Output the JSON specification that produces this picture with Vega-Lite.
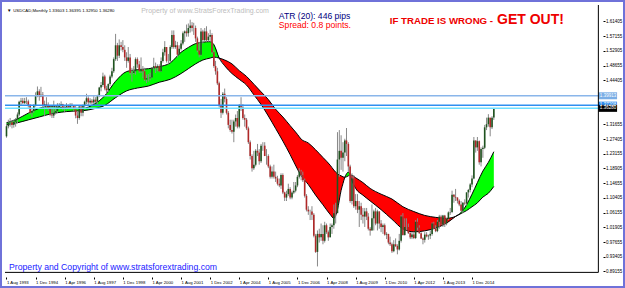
{
"$schema":"https://vega.github.io/schema/vega-lite/v6.json",
"width":625,"height":288,"autosize":"none","padding":0,"background":"white",
"config":{"view":{"stroke":"#6f72d9","strokeWidth":4},"font":"Liberation Sans","axis":{"labelOverlap":false,"labelSeparation":0,"labelFlush":false,"labelBound":false}},
"datasets":{
"candles":[
{"d":"1993-08-01","o":1.282,"h":1.318,"l":1.278,"c":1.311},{"d":"1993-09-01","o":1.311,"h":1.330,"l":1.305,"c":1.322},{"d":"1993-10-01","o":1.322,"h":1.335,"l":1.310,"c":1.323},{"d":"1993-11-01","o":1.323,"h":1.328,"l":1.305,"c":1.315},{"d":"1993-12-01","o":1.315,"h":1.330,"l":1.307,"c":1.324},
{"d":"1994-01-01","o":1.324,"h":1.335,"l":1.310,"c":1.330},{"d":"1994-02-01","o":1.330,"h":1.351,"l":1.320,"c":1.345},{"d":"1994-03-01","o":1.345,"h":1.385,"l":1.340,"c":1.382},{"d":"1994-04-01","o":1.382,"h":1.393,"l":1.372,"c":1.385},{"d":"1994-05-01","o":1.385,"h":1.393,"l":1.375,"c":1.378},{"d":"1994-06-01","o":1.378,"h":1.393,"l":1.375,"c":1.384},{"d":"1994-07-01","o":1.384,"h":1.395,"l":1.375,"c":1.383},{"d":"1994-08-01","o":1.383,"h":1.388,"l":1.365,"c":1.372},{"d":"1994-09-01","o":1.372,"h":1.375,"l":1.345,"c":1.350},{"d":"1994-10-01","o":1.350,"h":1.363,"l":1.338,"c":1.355},{"d":"1994-11-01","o":1.355,"h":1.375,"l":1.350,"c":1.372},{"d":"1994-12-01","o":1.372,"h":1.409,"l":1.368,"c":1.401},
{"d":"1995-01-01","o":1.401,"h":1.426,"l":1.395,"c":1.412},{"d":"1995-02-01","o":1.412,"h":1.418,"l":1.385,"c":1.397},{"d":"1995-03-01","o":1.397,"h":1.425,"l":1.395,"c":1.402},{"d":"1995-04-01","o":1.402,"h":1.410,"l":1.365,"c":1.370},{"d":"1995-05-01","o":1.370,"h":1.385,"l":1.340,"c":1.375},{"d":"1995-06-01","o":1.375,"h":1.395,"l":1.365,"c":1.372},{"d":"1995-07-01","o":1.372,"h":1.380,"l":1.355,"c":1.362},{"d":"1995-08-01","o":1.362,"h":1.372,"l":1.340,"c":1.345},{"d":"1995-09-01","o":1.345,"h":1.370,"l":1.335,"c":1.342},{"d":"1995-10-01","o":1.342,"h":1.385,"l":1.335,"c":1.350},{"d":"1995-11-01","o":1.350,"h":1.372,"l":1.345,"c":1.355},{"d":"1995-12-01","o":1.355,"h":1.378,"l":1.350,"c":1.366},
{"d":"1996-01-01","o":1.366,"h":1.378,"l":1.360,"c":1.372},{"d":"1996-02-01","o":1.372,"h":1.383,"l":1.368,"c":1.375},{"d":"1996-03-01","o":1.375,"h":1.376,"l":1.358,"c":1.362},{"d":"1996-04-01","o":1.362,"h":1.372,"l":1.352,"c":1.365},{"d":"1996-05-01","o":1.365,"h":1.378,"l":1.360,"c":1.370},{"d":"1996-06-01","o":1.370,"h":1.374,"l":1.360,"c":1.365},{"d":"1996-07-01","o":1.365,"h":1.378,"l":1.360,"c":1.372},{"d":"1996-08-01","o":1.372,"h":1.378,"l":1.362,"c":1.370},{"d":"1996-09-01","o":1.370,"h":1.372,"l":1.354,"c":1.360},{"d":"1996-10-01","o":1.360,"h":1.371,"l":1.334,"c":1.342},{"d":"1996-11-01","o":1.342,"h":1.355,"l":1.318,"c":1.335},{"d":"1996-12-01","o":1.335,"h":1.372,"l":1.330,"c":1.368},
{"d":"1997-01-01","o":1.368,"h":1.371,"l":1.340,"c":1.350},{"d":"1997-02-01","o":1.350,"h":1.374,"l":1.340,"c":1.371},{"d":"1997-03-01","o":1.371,"h":1.385,"l":1.362,"c":1.382},{"d":"1997-04-01","o":1.382,"h":1.405,"l":1.375,"c":1.392},{"d":"1997-05-01","o":1.392,"h":1.398,"l":1.370,"c":1.380},{"d":"1997-06-01","o":1.380,"h":1.392,"l":1.375,"c":1.385},{"d":"1997-07-01","o":1.385,"h":1.390,"l":1.368,"c":1.380},{"d":"1997-08-01","o":1.380,"h":1.398,"l":1.375,"c":1.388},{"d":"1997-09-01","o":1.388,"h":1.395,"l":1.378,"c":1.382},{"d":"1997-10-01","o":1.382,"h":1.402,"l":1.375,"c":1.400},{"d":"1997-11-01","o":1.400,"h":1.425,"l":1.395,"c":1.423},{"d":"1997-12-01","o":1.423,"h":1.439,"l":1.412,"c":1.430},
{"d":"1998-01-01","o":1.430,"h":1.466,"l":1.425,"c":1.455},{"d":"1998-02-01","o":1.455,"h":1.460,"l":1.415,"c":1.420},{"d":"1998-03-01","o":1.420,"h":1.428,"l":1.405,"c":1.415},{"d":"1998-04-01","o":1.415,"h":1.435,"l":1.410,"c":1.433},{"d":"1998-05-01","o":1.433,"h":1.460,"l":1.428,"c":1.455},{"d":"1998-06-01","o":1.455,"h":1.480,"l":1.450,"c":1.470},{"d":"1998-07-01","o":1.470,"h":1.510,"l":1.465,"c":1.505},{"d":"1998-08-01","o":1.505,"h":1.578,"l":1.500,"c":1.545},{"d":"1998-09-01","o":1.545,"h":1.552,"l":1.500,"c":1.515},{"d":"1998-10-01","o":1.515,"h":1.562,"l":1.508,"c":1.545},{"d":"1998-11-01","o":1.545,"h":1.555,"l":1.530,"c":1.540},{"d":"1998-12-01","o":1.540,"h":1.560,"l":1.525,"c":1.532},
{"d":"1999-01-01","o":1.532,"h":1.545,"l":1.500,"c":1.510},{"d":"1999-02-01","o":1.510,"h":1.525,"l":1.480,"c":1.500},{"d":"1999-03-01","o":1.500,"h":1.540,"l":1.495,"c":1.510},{"d":"1999-04-01","o":1.510,"h":1.520,"l":1.460,"c":1.465},{"d":"1999-05-01","o":1.465,"h":1.480,"l":1.440,"c":1.465},{"d":"1999-06-01","o":1.465,"h":1.485,"l":1.462,"c":1.470},{"d":"1999-07-01","o":1.470,"h":1.510,"l":1.460,"c":1.505},{"d":"1999-08-01","o":1.505,"h":1.510,"l":1.480,"c":1.490},{"d":"1999-09-01","o":1.490,"h":1.500,"l":1.465,"c":1.470},{"d":"1999-10-01","o":1.470,"h":1.510,"l":1.465,"c":1.475},{"d":"1999-11-01","o":1.475,"h":1.485,"l":1.450,"c":1.470},{"d":"1999-12-01","o":1.470,"h":1.480,"l":1.442,"c":1.446},
{"d":"2000-01-01","o":1.446,"h":1.460,"l":1.436,"c":1.450},{"d":"2000-02-01","o":1.450,"h":1.462,"l":1.440,"c":1.450},{"d":"2000-03-01","o":1.450,"h":1.466,"l":1.444,"c":1.452},{"d":"2000-04-01","o":1.452,"h":1.482,"l":1.450,"c":1.480},{"d":"2000-05-01","o":1.480,"h":1.509,"l":1.475,"c":1.485},{"d":"2000-06-01","o":1.485,"h":1.495,"l":1.465,"c":1.480},{"d":"2000-07-01","o":1.480,"h":1.490,"l":1.470,"c":1.485},{"d":"2000-08-01","o":1.485,"h":1.490,"l":1.467,"c":1.470},{"d":"2000-09-01","o":1.470,"h":1.510,"l":1.468,"c":1.500},{"d":"2000-10-01","o":1.500,"h":1.535,"l":1.495,"c":1.525},{"d":"2000-11-01","o":1.525,"h":1.557,"l":1.515,"c":1.540},{"d":"2000-12-01","o":1.540,"h":1.540,"l":1.495,"c":1.500},
{"d":"2001-01-01","o":1.500,"h":1.520,"l":1.490,"c":1.500},{"d":"2001-02-01","o":1.500,"h":1.545,"l":1.495,"c":1.540},{"d":"2001-03-01","o":1.540,"h":1.588,"l":1.535,"c":1.575},{"d":"2001-04-01","o":1.575,"h":1.588,"l":1.535,"c":1.540},{"d":"2001-05-01","o":1.540,"h":1.558,"l":1.535,"c":1.545},{"d":"2001-06-01","o":1.545,"h":1.555,"l":1.510,"c":1.518},{"d":"2001-07-01","o":1.518,"h":1.545,"l":1.515,"c":1.535},{"d":"2001-08-01","o":1.535,"h":1.560,"l":1.530,"c":1.550},{"d":"2001-09-01","o":1.550,"h":1.585,"l":1.545,"c":1.580},{"d":"2001-10-01","o":1.580,"h":1.588,"l":1.555,"c":1.585},{"d":"2001-11-01","o":1.585,"h":1.605,"l":1.570,"c":1.580},{"d":"2001-12-01","o":1.580,"h":1.608,"l":1.570,"c":1.595},
{"d":"2002-01-01","o":1.595,"h":1.619,"l":1.582,"c":1.602},{"d":"2002-02-01","o":1.602,"h":1.612,"l":1.585,"c":1.595},{"d":"2002-03-01","o":1.595,"h":1.610,"l":1.575,"c":1.595},{"d":"2002-04-01","o":1.595,"h":1.602,"l":1.555,"c":1.565},{"d":"2002-05-01","o":1.565,"h":1.570,"l":1.525,"c":1.530},{"d":"2002-06-01","o":1.530,"h":1.555,"l":1.510,"c":1.518},{"d":"2002-07-01","o":1.518,"h":1.595,"l":1.515,"c":1.585},{"d":"2002-08-01","o":1.585,"h":1.590,"l":1.550,"c":1.560},{"d":"2002-09-01","o":1.560,"h":1.595,"l":1.555,"c":1.585},{"d":"2002-10-01","o":1.585,"h":1.600,"l":1.555,"c":1.560},{"d":"2002-11-01","o":1.560,"h":1.580,"l":1.555,"c":1.570},{"d":"2002-12-01","o":1.570,"h":1.590,"l":1.555,"c":1.575},
{"d":"2003-01-01","o":1.575,"h":1.580,"l":1.520,"c":1.525},{"d":"2003-02-01","o":1.525,"h":1.530,"l":1.480,"c":1.485},{"d":"2003-03-01","o":1.485,"h":1.500,"l":1.460,"c":1.470},{"d":"2003-04-01","o":1.470,"h":1.480,"l":1.430,"c":1.435},{"d":"2003-05-01","o":1.435,"h":1.440,"l":1.365,"c":1.370},{"d":"2003-06-01","o":1.370,"h":1.390,"l":1.335,"c":1.350},{"d":"2003-07-01","o":1.350,"h":1.410,"l":1.345,"c":1.405},{"d":"2003-08-01","o":1.405,"h":1.420,"l":1.380,"c":1.390},{"d":"2003-09-01","o":1.390,"h":1.395,"l":1.345,"c":1.350},{"d":"2003-10-01","o":1.350,"h":1.355,"l":1.305,"c":1.315},{"d":"2003-11-01","o":1.315,"h":1.330,"l":1.295,"c":1.300},{"d":"2003-12-01","o":1.300,"h":1.330,"l":1.290,"c":1.295},
{"d":"2004-01-01","o":1.295,"h":1.330,"l":1.265,"c":1.325},{"d":"2004-02-01","o":1.325,"h":1.345,"l":1.310,"c":1.335},{"d":"2004-03-01","o":1.335,"h":1.355,"l":1.305,"c":1.310},{"d":"2004-04-01","o":1.310,"h":1.375,"l":1.305,"c":1.370},{"d":"2004-05-01","o":1.370,"h":1.395,"l":1.355,"c":1.365},{"d":"2004-06-01","o":1.365,"h":1.375,"l":1.330,"c":1.335},{"d":"2004-07-01","o":1.335,"h":1.345,"l":1.310,"c":1.330},{"d":"2004-08-01","o":1.330,"h":1.335,"l":1.300,"c":1.305},{"d":"2004-09-01","o":1.305,"h":1.310,"l":1.260,"c":1.265},{"d":"2004-10-01","o":1.265,"h":1.270,"l":1.215,"c":1.225},{"d":"2004-11-01","o":1.225,"h":1.230,"l":1.180,"c":1.190},{"d":"2004-12-01","o":1.190,"h":1.240,"l":1.185,"c":1.200},
{"d":"2005-01-01","o":1.200,"h":1.245,"l":1.195,"c":1.240},{"d":"2005-02-01","o":1.240,"h":1.260,"l":1.225,"c":1.235},{"d":"2005-03-01","o":1.235,"h":1.245,"l":1.200,"c":1.210},{"d":"2005-04-01","o":1.210,"h":1.260,"l":1.205,"c":1.255},{"d":"2005-05-01","o":1.255,"h":1.265,"l":1.240,"c":1.255},{"d":"2005-06-01","o":1.255,"h":1.265,"l":1.225,"c":1.225},{"d":"2005-07-01","o":1.225,"h":1.245,"l":1.200,"c":1.225},{"d":"2005-08-01","o":1.225,"h":1.230,"l":1.190,"c":1.195},{"d":"2005-09-01","o":1.195,"h":1.200,"l":1.160,"c":1.165},{"d":"2005-10-01","o":1.165,"h":1.195,"l":1.160,"c":1.180},{"d":"2005-11-01","o":1.180,"h":1.200,"l":1.160,"c":1.165},{"d":"2005-12-01","o":1.165,"h":1.180,"l":1.150,"c":1.160},
{"d":"2006-01-01","o":1.160,"h":1.168,"l":1.140,"c":1.145},{"d":"2006-02-01","o":1.145,"h":1.160,"l":1.135,"c":1.140},{"d":"2006-03-01","o":1.140,"h":1.175,"l":1.130,"c":1.170},{"d":"2006-04-01","o":1.170,"h":1.175,"l":1.115,"c":1.120},{"d":"2006-05-01","o":1.120,"h":1.122,"l":1.095,"c":1.105},{"d":"2006-06-01","o":1.105,"h":1.125,"l":1.095,"c":1.115},{"d":"2006-07-01","o":1.115,"h":1.145,"l":1.110,"c":1.130},{"d":"2006-08-01","o":1.130,"h":1.135,"l":1.100,"c":1.105},{"d":"2006-09-01","o":1.105,"h":1.125,"l":1.100,"c":1.120},{"d":"2006-10-01","o":1.120,"h":1.150,"l":1.115,"c":1.125},{"d":"2006-11-01","o":1.125,"h":1.150,"l":1.120,"c":1.140},{"d":"2006-12-01","o":1.140,"h":1.170,"l":1.135,"c":1.165},
{"d":"2007-01-01","o":1.165,"h":1.190,"l":1.160,"c":1.180},{"d":"2007-02-01","o":1.180,"h":1.185,"l":1.155,"c":1.170},{"d":"2007-03-01","o":1.170,"h":1.180,"l":1.150,"c":1.155},{"d":"2007-04-01","o":1.155,"h":1.160,"l":1.105,"c":1.110},{"d":"2007-05-01","o":1.110,"h":1.115,"l":1.065,"c":1.070},{"d":"2007-06-01","o":1.070,"h":1.080,"l":1.055,"c":1.065},{"d":"2007-07-01","o":1.065,"h":1.070,"l":1.040,"c":1.065},{"d":"2007-08-01","o":1.065,"h":1.080,"l":1.040,"c":1.055},{"d":"2007-09-01","o":1.055,"h":1.060,"l":0.990,"c":0.995},{"d":"2007-10-01","o":0.995,"h":1.000,"l":0.945,"c":0.948},{"d":"2007-11-01","o":0.948,"h":1.010,"l":0.906,"c":1.000},{"d":"2007-12-01","o":1.000,"h":1.015,"l":0.975,"c":0.990},
{"d":"2008-01-01","o":0.990,"h":1.030,"l":0.980,"c":1.000},{"d":"2008-02-01","o":1.000,"h":1.025,"l":0.970,"c":0.980},{"d":"2008-03-01","o":0.980,"h":1.035,"l":0.975,"c":1.025},{"d":"2008-04-01","o":1.025,"h":1.030,"l":1.000,"c":1.005},{"d":"2008-05-01","o":1.005,"h":1.010,"l":0.980,"c":0.990},{"d":"2008-06-01","o":0.990,"h":1.030,"l":0.990,"c":1.020},{"d":"2008-07-01","o":1.020,"h":1.030,"l":1.000,"c":1.025},{"d":"2008-08-01","o":1.025,"h":1.085,"l":1.015,"c":1.060},{"d":"2008-09-01","o":1.060,"h":1.090,"l":1.030,"c":1.060},{"d":"2008-10-01","o":1.060,"h":1.294,"l":1.060,"c":1.215},{"d":"2008-11-01","o":1.215,"h":1.300,"l":1.165,"c":1.240},{"d":"2008-12-01","o":1.240,"h":1.285,"l":1.185,"c":1.220},
{"d":"2009-01-01","o":1.220,"h":1.265,"l":1.180,"c":1.235},{"d":"2009-02-01","o":1.235,"h":1.275,"l":1.210,"c":1.270},{"d":"2009-03-01","o":1.270,"h":1.306,"l":1.225,"c":1.260},{"d":"2009-04-01","o":1.260,"h":1.265,"l":1.180,"c":1.195},{"d":"2009-05-01","o":1.195,"h":1.200,"l":1.090,"c":1.095},{"d":"2009-06-01","o":1.095,"h":1.175,"l":1.085,"c":1.160},{"d":"2009-07-01","o":1.160,"h":1.170,"l":1.075,"c":1.080},{"d":"2009-08-01","o":1.080,"h":1.115,"l":1.070,"c":1.095},{"d":"2009-09-01","o":1.095,"h":1.115,"l":1.060,"c":1.070},{"d":"2009-10-01","o":1.070,"h":1.095,"l":1.020,"c":1.080},{"d":"2009-11-01","o":1.080,"h":1.090,"l":1.040,"c":1.055},{"d":"2009-12-01","o":1.055,"h":1.075,"l":1.030,"c":1.050},
{"d":"2010-01-01","o":1.050,"h":1.075,"l":1.020,"c":1.065},{"d":"2010-02-01","o":1.065,"h":1.075,"l":1.040,"c":1.050},{"d":"2010-03-01","o":1.050,"h":1.060,"l":1.010,"c":1.015},{"d":"2010-04-01","o":1.015,"h":1.020,"l":0.995,"c":1.010},{"d":"2010-05-01","o":1.010,"h":1.085,"l":1.010,"c":1.045},{"d":"2010-06-01","o":1.045,"h":1.070,"l":1.010,"c":1.065},{"d":"2010-07-01","o":1.065,"h":1.075,"l":1.025,"c":1.030},{"d":"2010-08-01","o":1.030,"h":1.070,"l":1.010,"c":1.065},{"d":"2010-09-01","o":1.065,"h":1.065,"l":1.015,"c":1.030},{"d":"2010-10-01","o":1.030,"h":1.040,"l":1.005,"c":1.020},{"d":"2010-11-01","o":1.020,"h":1.030,"l":1.000,"c":1.025},{"d":"2010-12-01","o":1.025,"h":1.030,"l":0.995,"c":0.998},
{"d":"2011-01-01","o":0.998,"h":1.005,"l":0.985,"c":1.000},{"d":"2011-02-01","o":1.000,"h":1.000,"l":0.970,"c":0.975},{"d":"2011-03-01","o":0.975,"h":0.992,"l":0.965,"c":0.970},{"d":"2011-04-01","o":0.970,"h":0.975,"l":0.945,"c":0.950},{"d":"2011-05-01","o":0.950,"h":0.982,"l":0.947,"c":0.970},{"d":"2011-06-01","o":0.970,"h":0.987,"l":0.962,"c":0.965},{"d":"2011-07-01","o":0.965,"h":0.970,"l":0.941,"c":0.955},{"d":"2011-08-01","o":0.955,"h":1.000,"l":0.952,"c":0.980},{"d":"2011-09-01","o":0.980,"h":1.055,"l":0.975,"c":1.050},{"d":"2011-10-01","o":1.050,"h":1.060,"l":0.995,"c":0.997},{"d":"2011-11-01","o":0.997,"h":1.045,"l":0.995,"c":1.020},{"d":"2011-12-01","o":1.020,"h":1.045,"l":1.010,"c":1.020},
{"d":"2012-01-01","o":1.020,"h":1.030,"l":1.000,"c":1.002},{"d":"2012-02-01","o":1.002,"h":1.005,"l":0.985,"c":0.990},{"d":"2012-03-01","o":0.990,"h":1.005,"l":0.985,"c":0.998},{"d":"2012-04-01","o":0.998,"h":1.005,"l":0.985,"c":0.988},{"d":"2012-05-01","o":0.988,"h":1.040,"l":0.985,"c":1.035},{"d":"2012-06-01","o":1.035,"h":1.045,"l":1.010,"c":1.018},{"d":"2012-07-01","o":1.018,"h":1.025,"l":1.000,"c":1.002},{"d":"2012-08-01","o":1.002,"h":1.005,"l":0.985,"c":0.987},{"d":"2012-09-01","o":0.987,"h":0.990,"l":0.970,"c":0.983},{"d":"2012-10-01","o":0.983,"h":1.005,"l":0.975,"c":0.998},{"d":"2012-11-01","o":0.998,"h":1.005,"l":0.990,"c":0.993},{"d":"2012-12-01","o":0.993,"h":0.998,"l":0.983,"c":0.995},
{"d":"2013-01-01","o":0.995,"h":1.010,"l":0.985,"c":1.000},{"d":"2013-02-01","o":1.000,"h":1.033,"l":0.995,"c":1.030},{"d":"2013-03-01","o":1.030,"h":1.035,"l":1.013,"c":1.016},{"d":"2013-04-01","o":1.016,"h":1.025,"l":1.005,"c":1.008},{"d":"2013-05-01","o":1.008,"h":1.040,"l":1.005,"c":1.035},{"d":"2013-06-01","o":1.035,"h":1.055,"l":1.015,"c":1.050},{"d":"2013-07-01","o":1.050,"h":1.055,"l":1.025,"c":1.027},{"d":"2013-08-01","o":1.027,"h":1.055,"l":1.020,"c":1.053},{"d":"2013-09-01","o":1.053,"h":1.055,"l":1.020,"c":1.030},{"d":"2013-10-01","o":1.030,"h":1.045,"l":1.025,"c":1.043},{"d":"2013-11-01","o":1.043,"h":1.065,"l":1.040,"c":1.062},{"d":"2013-12-01","o":1.062,"h":1.075,"l":1.055,"c":1.063},
{"d":"2014-01-01","o":1.063,"h":1.125,"l":1.060,"c":1.113},{"d":"2014-02-01","o":1.113,"h":1.115,"l":1.090,"c":1.107},{"d":"2014-03-01","o":1.107,"h":1.130,"l":1.095,"c":1.105},{"d":"2014-04-01","o":1.105,"h":1.106,"l":1.088,"c":1.096},{"d":"2014-05-01","o":1.096,"h":1.100,"l":1.080,"c":1.085},{"d":"2014-06-01","o":1.085,"h":1.095,"l":1.065,"c":1.067},{"d":"2014-07-01","o":1.067,"h":1.092,"l":1.060,"c":1.090},{"d":"2014-08-01","o":1.090,"h":1.100,"l":1.083,"c":1.088},{"d":"2014-09-01","o":1.088,"h":1.120,"l":1.082,"c":1.120},{"d":"2014-10-01","o":1.120,"h":1.130,"l":1.105,"c":1.127},{"d":"2014-11-01","o":1.127,"h":1.147,"l":1.120,"c":1.143},{"d":"2014-12-01","o":1.143,"h":1.169,"l":1.135,"c":1.160},
{"d":"2015-01-01","o":1.160,"h":1.280,"l":1.158,"c":1.270},{"d":"2015-02-01","o":1.270,"h":1.270,"l":1.235,"c":1.250},{"d":"2015-03-01","o":1.250,"h":1.280,"l":1.240,"c":1.268},{"d":"2015-04-01","o":1.268,"h":1.270,"l":1.200,"c":1.207},{"d":"2015-05-01","o":1.207,"h":1.250,"l":1.195,"c":1.245},{"d":"2015-06-01","o":1.245,"h":1.255,"l":1.220,"c":1.249},{"d":"2015-07-01","o":1.249,"h":1.315,"l":1.245,"c":1.308},{"d":"2015-08-01","o":1.308,"h":1.336,"l":1.300,"c":1.317},{"d":"2015-09-01","o":1.317,"h":1.346,"l":1.310,"c":1.336},{"d":"2015-10-01","o":1.336,"h":1.336,"l":1.282,"c":1.308},{"d":"2015-11-01","o":1.308,"h":1.340,"l":1.303,"c":1.336},{"d":"2015-12-01","o":1.33603,"h":1.36395,"l":1.32950,"c":1.36280}
],
"band":[
{"d":"1993-08-01","fast":1.3212,"slow":1.3156,"seg":1,"dir":"up"},{"d":"1994-02-01","fast":1.3323,"slow":1.3212,"seg":1,"dir":"up"},{"d":"1994-08-01","fast":1.3490,"slow":1.3295,"seg":1,"dir":"up"},{"d":"1995-02-01","fast":1.3630,"slow":1.3379,"seg":1,"dir":"up"},{"d":"1995-08-01","fast":1.3686,"slow":1.3463,"seg":1,"dir":"up"},{"d":"1996-02-01","fast":1.3658,"slow":1.3518,"seg":1,"dir":"up"},{"d":"1996-08-01","fast":1.3630,"slow":1.3546,"seg":1,"dir":"up"},{"d":"1997-02-01","fast":1.3630,"slow":1.3560,"seg":1,"dir":"up"},{"d":"1997-08-01","fast":1.3742,"slow":1.3616,"seg":1,"dir":"up"},{"d":"1998-02-01","fast":1.3993,"slow":1.3714,"seg":1,"dir":"up"},{"d":"1998-08-01","fast":1.4411,"slow":1.3937,"seg":1,"dir":"up"},{"d":"1999-02-01","fast":1.4690,"slow":1.4132,"seg":1,"dir":"up"},{"d":"1999-08-01","fast":1.4746,"slow":1.4216,"seg":1,"dir":"up"},{"d":"2000-02-01","fast":1.4774,"slow":1.4272,"seg":1,"dir":"up"},{"d":"2000-08-01","fast":1.4830,"slow":1.4383,"seg":1,"dir":"up"},{"d":"2001-02-01","fast":1.4941,"slow":1.4467,"seg":1,"dir":"up"},{"d":"2001-08-01","fast":1.5248,"slow":1.4634,"seg":1,"dir":"up"},{"d":"2001-12-01","fast":1.5388,"slow":1.4774,"seg":1,"dir":"up"},{"d":"2002-04-01","fast":1.5499,"slow":1.4913,"seg":1,"dir":"up"},{"d":"2002-08-01","fast":1.5541,"slow":1.5025,"seg":1,"dir":"up"},{"d":"2002-12-01","fast":1.5555,"slow":1.5081,"seg":1,"dir":"up"},{"d":"2003-02-01","fast":1.5471,"slow":1.5109,"seg":1,"dir":"up"},{"d":"2003-05-01","fast":1.5081,"slow":1.5081,"seg":1,"dir":"up"},
{"d":"2003-05-01","fast":1.5081,"slow":1.5081,"seg":2,"dir":"down","dup":true},{"d":"2003-08-01","fast":1.4858,"slow":1.5025,"seg":2,"dir":"down"},{"d":"2003-12-01","fast":1.4634,"slow":1.4913,"seg":2,"dir":"down"},{"d":"2004-04-01","fast":1.4467,"slow":1.4718,"seg":2,"dir":"down"},{"d":"2004-08-01","fast":1.4300,"slow":1.4551,"seg":2,"dir":"down"},{"d":"2004-12-01","fast":1.4021,"slow":1.4328,"seg":2,"dir":"down"},{"d":"2005-04-01","fast":1.3742,"slow":1.4105,"seg":2,"dir":"down"},{"d":"2005-08-01","fast":1.3407,"slow":1.3881,"seg":2,"dir":"down"},{"d":"2005-12-01","fast":1.3045,"slow":1.3602,"seg":2,"dir":"down"},{"d":"2006-04-01","fast":1.2682,"slow":1.3379,"seg":2,"dir":"down"},{"d":"2006-08-01","fast":1.2291,"slow":1.3128,"seg":2,"dir":"down"},{"d":"2006-12-01","fast":1.1873,"slow":1.2877,"seg":2,"dir":"down"},{"d":"2007-02-01","fast":1.1678,"slow":1.2738,"seg":2,"dir":"down"},{"d":"2007-06-01","fast":1.1427,"slow":1.2626,"seg":2,"dir":"down"},{"d":"2007-10-01","fast":1.1120,"slow":1.2431,"seg":2,"dir":"down"},{"d":"2008-02-01","fast":1.0841,"slow":1.2208,"seg":2,"dir":"down"},{"d":"2008-06-01","fast":1.0562,"slow":1.1985,"seg":2,"dir":"down"},{"d":"2008-08-01","fast":1.0450,"slow":1.1845,"seg":2,"dir":"down"},{"d":"2008-10-01","fast":1.0701,"slow":1.1734,"seg":2,"dir":"down"},{"d":"2008-12-01","fast":1.1259,"slow":1.1678,"seg":2,"dir":"down"},{"d":"2009-01-01","fast":1.1455,"slow":1.1650,"seg":2,"dir":"down"},{"d":"2009-02-01","fast":1.1636,"slow":1.1636,"seg":2,"dir":"down"},
{"d":"2009-02-01","fast":1.1636,"slow":1.1636,"seg":3,"dir":"up","dup":true},{"d":"2009-03-01","fast":1.1734,"slow":1.1650,"seg":3,"dir":"up"},{"d":"2009-04-01","fast":1.1789,"slow":1.1678,"seg":3,"dir":"up"},{"d":"2009-05-01","fast":1.1706,"slow":1.1706,"seg":3,"dir":"up"},
{"d":"2009-05-01","fast":1.1706,"slow":1.1706,"seg":4,"dir":"down","dup":true},{"d":"2009-06-01","fast":1.1538,"slow":1.1692,"seg":4,"dir":"down"},{"d":"2009-08-01","fast":1.1315,"slow":1.1622,"seg":4,"dir":"down"},{"d":"2009-12-01","fast":1.1120,"slow":1.1483,"seg":4,"dir":"down"},{"d":"2010-04-01","fast":1.0953,"slow":1.1315,"seg":4,"dir":"down"},{"d":"2010-10-01","fast":1.0701,"slow":1.1148,"seg":4,"dir":"down"},{"d":"2011-04-01","fast":1.0423,"slow":1.1008,"seg":4,"dir":"down"},{"d":"2011-10-01","fast":1.0144,"slow":1.0785,"seg":4,"dir":"down"},{"d":"2012-04-01","fast":1.0060,"slow":1.0646,"seg":4,"dir":"down"},{"d":"2012-10-01","fast":1.0088,"slow":1.0534,"seg":4,"dir":"down"},{"d":"2013-04-01","fast":1.0171,"slow":1.0478,"seg":4,"dir":"down"},{"d":"2013-10-01","fast":1.0311,"slow":1.0450,"seg":4,"dir":"down"},{"d":"2014-03-01","fast":1.0506,"slow":1.0506,"seg":4,"dir":"down"},
{"d":"2014-03-01","fast":1.0506,"slow":1.0506,"seg":5,"dir":"up","dup":true},{"d":"2014-06-01","fast":1.0618,"slow":1.0590,"seg":5,"dir":"up"},{"d":"2014-09-01","fast":1.0841,"slow":1.0674,"seg":5,"dir":"up"},{"d":"2014-12-01","fast":1.1148,"slow":1.0785,"seg":5,"dir":"up"},{"d":"2015-03-01","fast":1.1483,"slow":1.0897,"seg":5,"dir":"up"},{"d":"2015-06-01","fast":1.1817,"slow":1.1064,"seg":5,"dir":"up"},{"d":"2015-09-01","fast":1.2068,"slow":1.1176,"seg":5,"dir":"up"},{"d":"2015-12-01","fast":1.2375,"slow":1.1371,"seg":5,"dir":"up"}
],
"levels":[{"level":1.39913,"name":"upper"},{"level":1.37208,"name":"lower"},{"level":1.36280,"name":"bid"}]
},
"layer":[
{"data":{"name":"band"},"mark":{"type":"area","interpolate":"monotone"},
 "encoding":{
  "x":{"field":"d","type":"temporal","title":null,
   "scale":{"type":"utc","domain":[{"year":1993,"month":7,"date":7,"utc":true},{"year":2021,"month":9,"date":12,"utc":true}]},
   "axis":{"orient":"bottom","offset":-11,"domain":false,"grid":false,"format":"%-d %b %Y","labelAlign":"left","labelBaseline":"top","labelFontSize":4.3,"labelPadding":1,"labelOverlap":false,"labelSeparation":0,"labelFlush":false,"labelBound":false,"tickCount":100,"tickSize":2,"tickColor":"#000000","labelColor":"#000000",
    "values":[{"year":1993,"month":8,"date":1,"utc":true},{"year":1994,"month":12,"date":1,"utc":true},{"year":1996,"month":4,"date":1,"utc":true},{"year":1997,"month":8,"date":1,"utc":true},{"year":1998,"month":12,"date":1,"utc":true},{"year":2000,"month":4,"date":1,"utc":true},{"year":2001,"month":8,"date":1,"utc":true},{"year":2002,"month":12,"date":1,"utc":true},{"year":2004,"month":4,"date":1,"utc":true},{"year":2005,"month":8,"date":1,"utc":true},{"year":2006,"month":12,"date":1,"utc":true},{"year":2008,"month":4,"date":1,"utc":true},{"year":2009,"month":8,"date":1,"utc":true},{"year":2010,"month":12,"date":1,"utc":true},{"year":2012,"month":4,"date":1,"utc":true},{"year":2013,"month":8,"date":1,"utc":true},{"year":2014,"month":12,"date":1,"utc":true}]}},
  "y":{"field":"fast","type":"quantitative","title":null,
   "scale":{"domain":[0.85812,1.66147],"zero":false,"nice":false},
   "axis":{"orient":"right","offset":-22,"domain":false,"grid":false,"format":".5f","labelFontSize":4.5,"labelPadding":0.5,"labelOverlap":false,"labelSeparation":0,"labelFlush":false,"labelBound":false,"tickCount":100,"tickSize":2,"tickColor":"#000000","labelColor":"#000000",
    "values":[0.89155,0.93405,0.97655,1.01905,1.06155,1.10405,1.14655,1.18905,1.23155,1.27405,1.31655,1.44405,1.48655,1.52905,1.57155,1.61405]}},
  "y2":{"field":"slow"},
  "fill":{"field":"dir","type":"nominal","scale":{"domain":["up","down"],"range":["#00ff00","#ff0000"]},"legend":null},
  "detail":{"field":"seg","type":"nominal"}
 }},
{"data":{"name":"band"},"transform":[{"filter":"!datum.dup"}],"mark":{"type":"line","interpolate":"monotone","color":"#000000","strokeWidth":1},
 "encoding":{"x":{"field":"d","type":"temporal","title":null},"y":{"field":"fast","type":"quantitative","title":null}}},
{"data":{"name":"band"},"transform":[{"filter":"!datum.dup"}],"mark":{"type":"line","interpolate":"monotone","color":"#000000","strokeWidth":1},
 "encoding":{"x":{"field":"d","type":"temporal","title":null},"y":{"field":"slow","type":"quantitative","title":null}}},
{"data":{"name":"candles"},"mark":{"type":"rule","color":"#888888","strokeWidth":1},
 "encoding":{"x":{"field":"d","type":"temporal","title":null},"y":{"field":"l","type":"quantitative","title":null},"y2":{"field":"h"}}},
{"data":{"name":"candles"},"mark":{"type":"bar","width":1.6},
 "encoding":{"x":{"field":"d","type":"temporal","title":null},"y":{"field":"o","type":"quantitative","title":null},"y2":{"field":"c"},
  "color":{"condition":{"test":"datum.c >= datum.o","value":"#1f531f"},"value":"#b02828"}}},
{"data":{"name":"levels"},"mark":{"type":"rule","strokeWidth":1.5},
 "encoding":{"x":{"datum":{"year":1993,"month":7,"date":7,"utc":true}},"x2":{"datum":{"year":2020,"month":9,"date":15,"utc":true}},
  "y":{"field":"level","type":"quantitative","title":null},
  "stroke":{"field":"name","type":"nominal","scale":{"domain":["upper","lower","bid"],"range":["#8ab6ea","#2f8ff0","#6fe0ff"]},"legend":null}}},
{"data":{"name":"levels"},"mark":{"type":"bar","height":7},
 "encoding":{"x":{"datum":{"year":2020,"month":9,"date":15,"utc":true}},"x2":{"datum":{"year":2021,"month":7,"date":25,"utc":true}},
  "y":{"field":"level","type":"quantitative","title":null},
  "color":{"field":"name","type":"nominal","scale":{"domain":["upper","lower","bid"],"range":["#7aaee6","#2f8ff0","#000000"]},"legend":null}}},
{"data":{"name":"levels"},"mark":{"type":"text","align":"left","baseline":"middle","fontSize":4.5,"color":"#ffffff","dx":1.5},
 "encoding":{"x":{"datum":{"year":2020,"month":9,"date":15,"utc":true}},"y":{"field":"level","type":"quantitative","title":null},"text":{"field":"level","type":"quantitative","format":".5f"}}},
{"data":{"values":[{}]},"mark":{"type":"rule","color":"#000000","strokeWidth":1},
 "encoding":{"x":{"datum":{"year":2020,"month":9,"date":15,"utc":true}},"y":{"datum":1.66147},"y2":{"datum":0.88881}}},
{"data":{"values":[{}]},"mark":{"type":"rule","color":"#000000","strokeWidth":1},
 "encoding":{"x":{"datum":{"year":1993,"month":7,"date":7,"utc":true}},"x2":{"datum":{"year":2020,"month":9,"date":15,"utc":true}},"y":{"datum":0.88881}}},
{"data":{"values":[{}]},"mark":{"type":"text","align":"left","baseline":"middle","fontSize":4.5,"color":"#000000"},
 "encoding":{"x":{"datum":{"year":1993,"month":8,"date":9,"utc":true}},"y":{"datum":1.6428},"text":{"value":"▼"}}},
{"data":{"values":[{}]},"mark":{"type":"text","align":"left","baseline":"middle","fontSize":4.3,"color":"#000000"},
 "encoding":{"x":{"datum":{"year":1993,"month":11,"date":21,"utc":true}},"y":{"datum":1.6428},"text":{"value":"USDCAD,Monthly  1.33603 1.36395 1.32950 1.36280"}}},
{"data":{"values":[{}]},"mark":{"type":"text","align":"center","baseline":"middle","fontSize":7,"color":"#bdbdbd"},
 "encoding":{"x":{"datum":{"year":2002,"month":9,"date":6,"utc":true}},"y":{"datum":1.6428},"text":{"value":"Property of www.StratsForexTrading.com"}}},
{"data":{"values":[{}]},"mark":{"type":"text","align":"left","baseline":"middle","fontSize":8.6,"color":"#000080"},
 "encoding":{"x":{"datum":{"year":2006,"month":1,"date":24,"utc":true}},"y":{"datum":1.6298},"text":{"value":"ATR (20): 446 pips"}}},
{"data":{"values":[{}]},"mark":{"type":"text","align":"left","baseline":"middle","fontSize":8.6,"color":"#ff0000"},
 "encoding":{"x":{"datum":{"year":2006,"month":1,"date":24,"utc":true}},"y":{"datum":1.6050},"text":{"value":"Spread: 0.8 points."}}},
{"data":{"values":[{}]},"mark":{"type":"text","align":"left","baseline":"middle","fontSize":9.7,"fontWeight":"bold","color":"#ee0000"},
 "encoding":{"x":{"datum":{"year":2011,"month":2,"date":23,"utc":true}},"y":{"datum":1.6149},"text":{"value":"IF TRADE IS WRONG - "}}},
{"data":{"values":[{}]},"mark":{"type":"text","align":"left","baseline":"middle","fontSize":14,"fontWeight":"bold","color":"#ee0000"},
 "encoding":{"x":{"datum":{"year":2016,"month":1,"date":23,"utc":true}},"y":{"datum":1.6168},"text":{"value":"GET OUT!"}}},
{"data":{"values":[{}]},"mark":{"type":"text","align":"left","baseline":"middle","fontSize":8.7,"color":"#1a1aff"},
 "encoding":{"x":{"datum":{"year":1993,"month":9,"date":11,"utc":true}},"y":{"datum":0.9036},"text":{"value":"Property and Copyright of www.stratsforextrading.com"}}}
]
}
